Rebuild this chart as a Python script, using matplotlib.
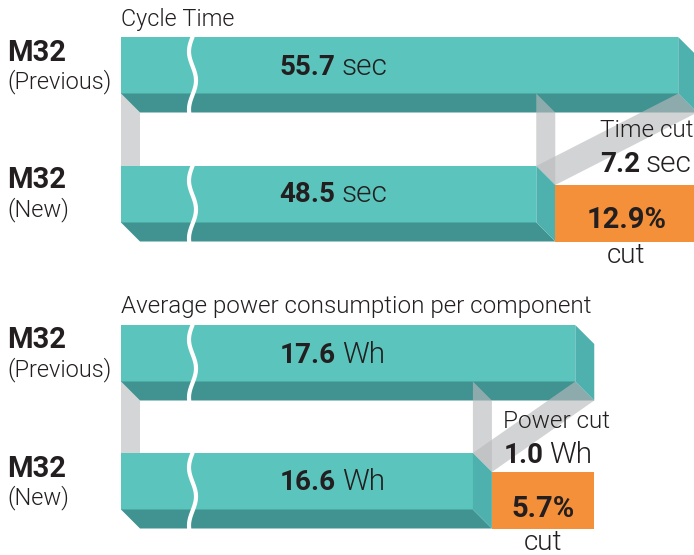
import matplotlib
matplotlib.use("Agg")
import matplotlib.pyplot as plt
import numpy as np
from matplotlib.patches import Polygon

W, H = 694, 555

# ---------- data ----------
panel_titles = ["Cycle Time", "Average power consumption per component"]
model_names = ["M32", "M32"]
versions = ["(Previous)", "(New)"]
time_values = [55.7, 48.5]       # previous, new
power_values = [17.6, 16.6]
units = ["sec", "Wh"]
cut_titles = ["Time cut", "Power cut"]
cut_amounts = [7.2, 1.0]
cut_percent = [12.9, 5.7]

# ---------- style ----------
TEAL = "#5bc5bd"
TEAL_DARK = "#409390"
TEAL_SIDE = "#4fb1ae"
ORANGE = "#f5903a"
GRAY = "#d4d5d7"
GHOST = "#b9babc"
INK = "#231f20"
FONT = "Roboto"
LIGHT = 300

BAR_X0 = 121      # px where the (broken) bars start
BAR_H = 56.5      # front face height, px
DEPTH = 19        # 3d extrusion, px
BREAK_X = 192.5

# each panel: axis range (broken axis, bars start at BAR_X0) and bar tops in px
panels = [
    dict(values=time_values, xlim=(21.3, 56.5), tops=(37, 166), title_size=16.8,
         title_y=26, label_y=(60.7, 88.3, 188.3, 216.7), val_y=(75, 201.7),
         cut_x=600, cut_y=(136.7, 171.7), pct_y=(228.3, 263.3)),
    dict(values=power_values, xlim=(11.98, 18.76), tops=(325, 453), title_size=17.4,
         title_y=313.3, label_y=(348.3, 376.5, 476.7, 504.5), val_y=(362.7, 490),
         cut_x=503.5, cut_y=(428.3, 463.3), pct_y=(516.7, 550)),
]

fig = plt.figure(figsize=(W / 100, H / 100), dpi=100)
axes = []
for p in panels:
    ax = fig.add_axes([0, 0, 1, 1])
    ax.set_xlim(*p["xlim"])
    ax.set_ylim(H, 0)
    ax.axis("off")
    axes.append(ax)

lay = fig.add_axes([0, 0, 1, 1])
lay.set_xlim(0, W)
lay.set_ylim(H, 0)
lay.axis("off")
renderer = fig.canvas.get_renderer()


def txt(ax, x, y, s, size, bold=False, **kw):
    return ax.text(x, y, s, fontsize=size, fontweight="bold" if bold else LIGHT,
                   family=FONT, color=INK, va="baseline", **kw)


def mixed(ax, x, y, bold, regular, size, usize, gap=6):
    t = txt(ax, x, y, bold, size, bold=True)
    bb = t.get_window_extent(renderer)
    x1 = ax.transData.inverted().transform((bb.x1, bb.y0))[0]
    u = (ax.get_xlim()[1] - ax.get_xlim()[0]) / W
    txt(ax, x1 + gap * u, y, regular, usize)


for i, (p, ax) in enumerate(zip(panels, axes)):
    lo, hi = p["xlim"]
    u = (hi - lo) / W
    start = lo + BAR_X0 * u
    dx = DEPTH * u
    prev, new = p["values"]
    yp, yn = p["tops"]
    h, d = BAR_H, DEPTH

    # connector on the left
    ax.add_patch(Polygon([(start, yp + h), (start + dx, yp + h + d),
                          (start + dx, yn), (start, yn)], fc=GRAY, lw=0, zorder=1))

    def draw_bar(v, top, z):
        ax.barh(top + h / 2, v - start, left=start, height=h, color=TEAL,
                lw=0, zorder=z)
        ax.add_patch(Polygon([(start, top + h), (v, top + h), (v + dx, top + h + d),
                              (start + dx, top + h + d)], fc=TEAL_DARK, lw=0, zorder=z))
        ax.add_patch(Polygon([(v, top), (v + dx, top + d), (v + dx, top + h + d),
                              (v, top + h)], fc=TEAL_SIDE, lw=0, zorder=z))

    draw_bar(prev, yp, 2)

    # translucent "ghost" of the removed part
    ax.add_patch(Polygon([(new, yp + h), (new + dx, yp + h + d),
                          (new + dx, yn + d), (new, yn)],
                         fc=GHOST, alpha=0.64, lw=0, zorder=3))
    ax.add_patch(Polygon([(prev, yp + h), (prev + dx, yp + h + d),
                          (new + dx, yn + d), (new, yn)],
                         fc=GHOST, alpha=0.64, lw=0, zorder=3))

    draw_bar(new, yn, 4)

    # orange cut box
    ax.barh(yn + d + h / 2, prev - new, left=new + dx, height=h, color=ORANGE,
            lw=0, zorder=4)
    cx = new + dx + (prev - new) / 2
    txt(ax, cx, p["pct_y"][0], f"{cut_percent[i]}%", 21, bold=True, ha="center", zorder=6)
    txt(ax, cx, p["pct_y"][1], "cut", 20, ha="center", zorder=6)

    # break marks
    for top in (yp, yn):
        yy = np.linspace(top - 1, top + h + d + 1, 60)
        xx = BREAK_X + 3.5 * np.sin(2 * np.pi * (yy - top) / 58 + np.pi)
        lay.plot(xx, yy, color="white", lw=3, solid_capstyle="butt")

    # texts
    txt(lay, BAR_X0, p["title_y"], panel_titles[i], p["title_size"])
    ly = p["label_y"]
    txt(lay, 7.5, ly[0], model_names[0], 21, bold=True)
    txt(lay, 7.5, ly[1], versions[0], 17)
    txt(lay, 7.5, ly[2], model_names[1], 21, bold=True)
    txt(lay, 7.5, ly[3], versions[1], 17)

    mixed(lay, 279.5, p["val_y"][0], f"{prev}", units[i], 20, 21.5)
    mixed(lay, 279.5, p["val_y"][1], f"{new}", units[i], 20, 21.5)

    txt(lay, p["cut_x"], p["cut_y"][0], cut_titles[i], 17.5)
    mixed(lay, p["cut_x"], p["cut_y"][1], f"{cut_amounts[i]}", units[i], 20, 21.5)

fig.savefig("out.png", dpi=100)
